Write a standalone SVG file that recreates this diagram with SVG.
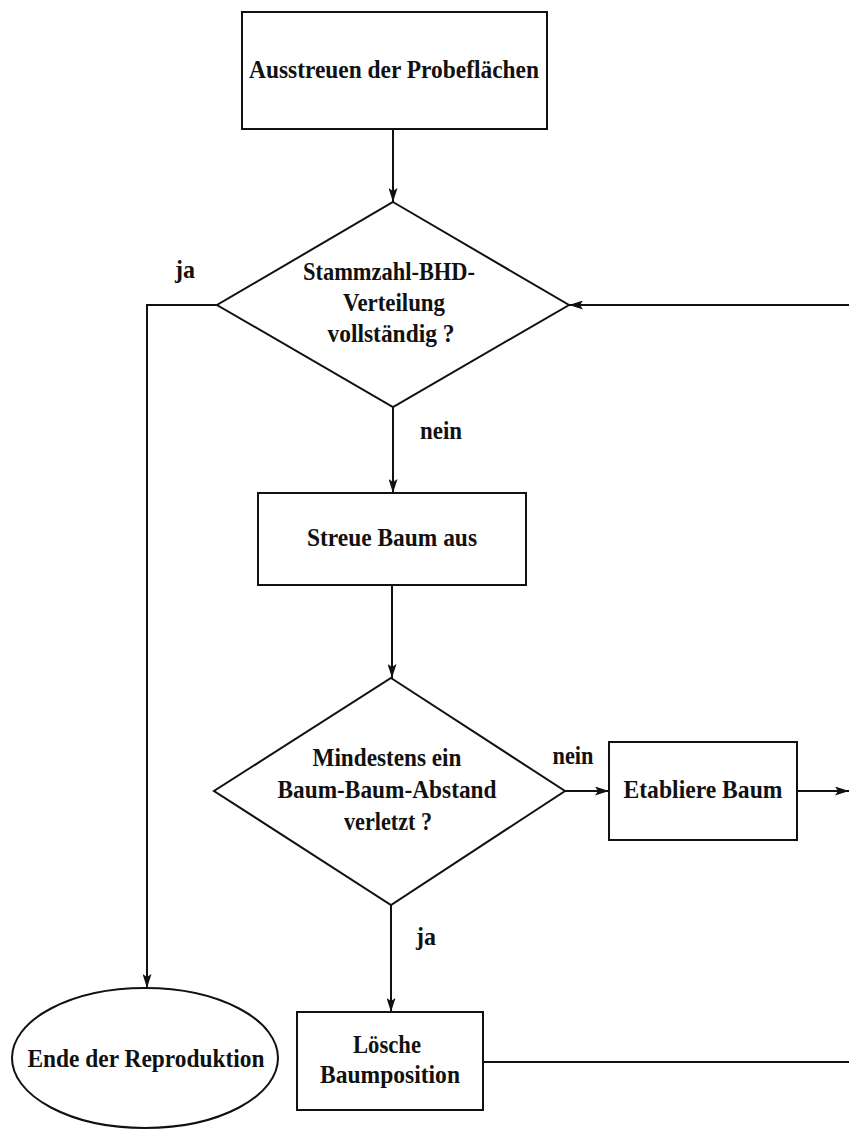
<svg xmlns="http://www.w3.org/2000/svg" width="849" height="1129" viewBox="0 0 849 1129">
<defs>
<marker id="arr" markerWidth="14" markerHeight="9" refX="14" refY="4.5" orient="auto" markerUnits="userSpaceOnUse">
<path d="M0,0 L14,4.5 L0,9 L3,4.5 z" fill="#111"/>
</marker>
<style>
.shape{fill:#fff;stroke:#111;stroke-width:2}
.ln{fill:none;stroke:#111;stroke-width:2}
text{font-family:"Liberation Serif","Times New Roman",serif;font-weight:bold;font-size:25px;fill:#111;text-anchor:middle}
</style>
</defs>
<rect width="849" height="1129" fill="#fff"/>
<g id="connectors">
<line class="ln" x1="393" y1="129" x2="393" y2="202" marker-end="url(#arr)"/>
<line class="ln" x1="393" y1="407" x2="393" y2="493" marker-end="url(#arr)"/>
<line class="ln" x1="392" y1="585" x2="392" y2="678" marker-end="url(#arr)"/>
<line class="ln" x1="391" y1="905" x2="391" y2="1012" marker-end="url(#arr)"/>
<polyline class="ln" points="217,305 147,305 147,988" marker-end="url(#arr)"/>
<line class="ln" x1="849" y1="305" x2="569" y2="305" marker-end="url(#arr)"/>
<line class="ln" x1="565" y1="791" x2="609" y2="791" marker-end="url(#arr)"/>
<line class="ln" x1="797" y1="791" x2="849" y2="791" marker-end="url(#arr)"/>
<line class="ln" x1="483" y1="1062" x2="849" y2="1062"/>
<text x="185" y="278" textLength="20" lengthAdjust="spacingAndGlyphs">ja</text>
<text x="441" y="439" textLength="42" lengthAdjust="spacingAndGlyphs">nein</text>
<text x="573" y="764" textLength="41" lengthAdjust="spacingAndGlyphs">nein</text>
<text x="426" y="945" textLength="20" lengthAdjust="spacingAndGlyphs">ja</text>
</g>
<g id="start">
<rect class="shape" x="242" y="12" width="305" height="117"/>
<text x="394" y="78" textLength="290" lengthAdjust="spacingAndGlyphs">Ausstreuen der Probeflächen</text>
</g>
<g id="decision1">
<polygon class="shape" points="393,202 569,305 393,407 217,305"/>
<text x="389" y="280" textLength="172" lengthAdjust="spacingAndGlyphs">Stammzahl-BHD-</text>
<text x="394" y="311" textLength="102" lengthAdjust="spacingAndGlyphs">Verteilung</text>
<text x="391" y="342" textLength="127" lengthAdjust="spacingAndGlyphs">vollständig ?</text>
</g>
<g id="streue">
<rect class="shape" x="258" y="493" width="268" height="92"/>
<text x="392" y="546" textLength="170" lengthAdjust="spacingAndGlyphs">Streue Baum aus</text>
</g>
<g id="decision2">
<polygon class="shape" points="391,678 565,791 391,905 214,791"/>
<text x="387" y="766" textLength="149" lengthAdjust="spacingAndGlyphs">Mindestens ein</text>
<text x="387" y="798" textLength="219" lengthAdjust="spacingAndGlyphs">Baum-Baum-Abstand</text>
<text x="388" y="830" textLength="88" lengthAdjust="spacingAndGlyphs">verletzt ?</text>
</g>
<g id="etabliere">
<rect class="shape" x="609" y="742" width="188" height="98"/>
<text x="703" y="798" textLength="159" lengthAdjust="spacingAndGlyphs">Etabliere Baum</text>
</g>
<g id="ende">
<ellipse class="shape" cx="145" cy="1058" rx="133" ry="70"/>
<text x="146" y="1067" textLength="237" lengthAdjust="spacingAndGlyphs">Ende der Reproduktion</text>
</g>
<g id="loesche">
<rect class="shape" x="297" y="1012" width="186" height="98"/>
<text x="387" y="1053" textLength="68" lengthAdjust="spacingAndGlyphs">Lösche</text>
<text x="390" y="1083" textLength="140" lengthAdjust="spacingAndGlyphs">Baumposition</text>
</g>
</svg>
